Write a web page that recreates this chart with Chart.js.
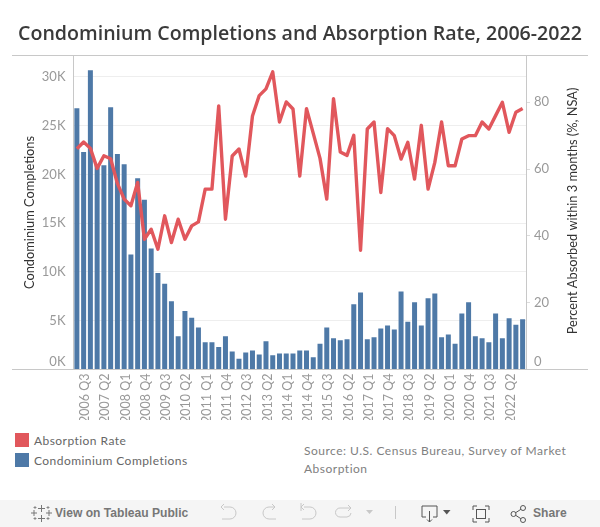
<!DOCTYPE html>
<html>
<head>
<meta charset="utf-8">
<title>Condominium Completions and Absorption Rate, 2006-2022</title>
<script src="https://cdn.jsdelivr.net/npm/chart.js@4"></script>
<style>
  html, body { margin: 0; padding: 0; background: #fff; }
  #page { position: relative; width: 600px; height: 527px; overflow: hidden; font-family: Lato, sans-serif; }
  #title { position: absolute; left: 18px; top: 19px; font: 600 19.6px 'Open Sans', sans-serif; line-height: 27px; color: #3a3a3a; white-space: nowrap; }
  #chart { position: absolute; left: 0; top: 0; }
  .swatch { position: absolute; left: 15px; width: 14px; height: 14px; }
  .key { position: absolute; left: 34px; font-size: 12px; line-height: 14px; color: #666; letter-spacing: 0.45px; white-space: nowrap; }
  #source { position: absolute; left: 304px; top: 442px; width: 280px; font-size: 12px; line-height: 18px; color: #808080; letter-spacing: 0.5px; }
  #toolbar { position: absolute; left: 0; top: 500px; width: 600px; height: 27px; background: #f5f5f5; }
  #toolbar span { position: absolute; top: 6px; font: 12.1px/15px 'Liberation Sans', sans-serif; font-weight: 700; color: #777; white-space: nowrap; }
  #toolbar svg { position: absolute; left: 0; top: 0; }
</style>
</head>
<body>
<div id="page">
  <canvas id="chart" width="600" height="420"></canvas>
  <div id="title">Condominium Completions and Absorption Rate, 2006-2022</div>
  <div class="swatch" style="top:433px;background:#e1575c"></div>
  <div class="key" style="top:434px" id="keyRate"></div>
  <div class="swatch" style="top:453px;background:#4e79a7"></div>
  <div class="key" style="top:454px" id="keyBars"></div>
  <div id="source">Source: U.S. Census Bureau, Survey of Market Absorption</div>
  <div id="toolbar">
    <svg width="600" height="27" fill="none" stroke-width="1">
      <!-- tableau mark -->
      <g stroke="#777">
        <path d="M41.5 5v7M38 8.500h7M41.500 15v7M38 18.500h7M34 10v6M31 13h6M49 10v6M46 13h6"/>
        <path d="M35 6v3M33.500 7.500h3M48 6v3M46.500 7.500h3M35 17v3M33.500 18.500h3M48 17v3M46.500 18.500h3" stroke-width="0.8"/>
      </g>
      <!-- undo / redo / revert / refresh -->
      <g stroke="#c8c8c8">
        <path d="M224 7h6a6 6 0 0 1 0 12h-8M224 4l-3 3 3 3"/>
        <path d="M275 7h-6a6 6 0 0 0 0 12h7M272 4l3 3-3 3"/>
        <path d="M304 7h6a6 6 0 0 1 0 12h-8M304 4l-3 3 3 3M301 3v8"/>
        <path d="M350 8h-10a4.500 4.500 0 0 0 0 9h7a4.500 4.500 0 0 0 4-4M348 5l3 3-3 3"/>
      </g>
      <path d="M366 10h7l-3.500 4z" fill="#c8c8c8"/>
      <path d="M395.500 6v13" stroke="#c8c8c8"/>
      <!-- download -->
      <g stroke="#555">
        <path d="M426 17h-4V6h15v11h-4M429.500 11v11M427 19.500l2.500 2.500 2.500-2.500"/>
      </g>
      <path d="M443 10h7.500l-3.750 4.500z" fill="#555"/>
      <!-- fullscreen -->
      <g stroke="#555">
        <path d="M473 10V6h4M485 6h4v4M489 18v4h-4M477 22h-4v-4"/>
        <rect x="476.500" y="9.500" width="9" height="9"/>
      </g>
      <!-- share -->
      <g stroke="#555">
        <circle cx="513.500" cy="14" r="2.500"/>
        <circle cx="523" cy="8" r="2.500"/>
        <circle cx="523" cy="20" r="2.500"/>
        <path d="M515.700 12.700l5.200-3.400M515.700 15.300l5.200 3.400"/>
      </g>
    </svg>
    <span style="left:55px">View on Tableau Public</span>
    <span style="left:533px">Share</span>
  </div>
</div>
<script>
// ===== Data =====
const quarters = [
  '2006 Q2', '2006 Q3', '2006 Q4',
  '2007 Q1', '2007 Q2', '2007 Q3', '2007 Q4',
  '2008 Q1', '2008 Q2', '2008 Q3', '2008 Q4',
  '2009 Q1', '2009 Q2', '2009 Q3', '2009 Q4',
  '2010 Q1', '2010 Q2', '2010 Q3', '2010 Q4',
  '2011 Q1', '2011 Q2', '2011 Q3', '2011 Q4',
  '2012 Q1', '2012 Q2', '2012 Q3', '2012 Q4',
  '2013 Q1', '2013 Q2', '2013 Q3', '2013 Q4',
  '2014 Q1', '2014 Q2', '2014 Q3', '2014 Q4',
  '2015 Q1', '2015 Q2', '2015 Q3', '2015 Q4',
  '2016 Q1', '2016 Q2', '2016 Q3', '2016 Q4',
  '2017 Q1', '2017 Q2', '2017 Q3', '2017 Q4',
  '2018 Q1', '2018 Q2', '2018 Q3', '2018 Q4',
  '2019 Q1', '2019 Q2', '2019 Q3', '2019 Q4',
  '2020 Q1', '2020 Q2', '2020 Q3', '2020 Q4',
  '2021 Q1', '2021 Q2', '2021 Q3', '2021 Q4',
  '2022 Q1', '2022 Q2', '2022 Q3', '2022 Q4'
];

const completions = [
  26800, 22300, 30700,
  21000, 20950, 26900, 22100,
  21050, 11800, 19600, 17400,
  12400, 9900, 8800, 7000,
  3400, 6000, 5300, 4300,
  2800, 2800, 2300, 3400,
  1850, 1100, 1750, 1950,
  1550, 2900, 1450, 1650,
  1650, 1650, 1950, 1950,
  1250, 2650, 4300, 3200,
  3000, 3100, 6700, 7900,
  3100, 3300, 4200, 4500,
  4100, 8000, 4900, 6900,
  4500, 7300, 7800, 3300,
  3600, 2650, 5750, 6900,
  3400, 3200, 2800, 5750,
  3200, 5250, 4600, 5150
];

const absorption = [
  66.1, 68.1, 66.2,
  60.2, 64, 63.1, 55.7,
  51, 49, 56, 39,
  42, 36, 46, 38,
  45, 39, 43, 44.2,
  54, 54, 78.9, 45,
  63.9, 66, 57.9, 75.9,
  82, 84, 89.1, 74.1,
  80.1, 78, 57.9, 78.1,
  70.7, 63.2, 51, 81.1,
  65.1, 64.1, 70.1, 35.7,
  72, 74.1, 53, 72.1,
  70, 63, 68, 57,
  73.1, 54, 62, 74.1,
  61, 61, 69, 70,
  70, 74.1, 72, 76,
  80, 71, 77, 78.1
];

const leftTicks = [0, 5000, 10000, 15000, 20000, 25000, 30000];
const rightTicks = [0, 20, 40, 60, 80];

const seriesRate = 'Absorption Rate';
const seriesBars = 'Condominium Completions';
const rightTitle = 'Percent Absorbed within 3 months (%, NSA)';

document.getElementById('keyRate').textContent = seriesRate;
document.getElementById('keyBars').textContent = seriesBars;

// ===== Config =====
const textFont = 'Lato, sans-serif';
const axisLine = '#c8c8c8';
const tickGray = '#999999';

// the zero label sits above the baseline, a blank second line pushes it up
const liftZero = (v, text) => (v === 0 ? [text, ''] : text);

// outer frame lines run past the plot, and the right title reads bottom to top
const frameLines = {
  id: 'frameLines',
  afterDraw(chart) {
    const { ctx, chartArea } = chart;
    ctx.save();
    ctx.strokeStyle = axisLine;
    ctx.lineWidth = 1;
    ctx.beginPath();
    ctx.moveTo(12, chartArea.top);
    ctx.lineTo(588, chartArea.top);
    ctx.moveTo(12, chartArea.bottom);
    ctx.lineTo(588, chartArea.bottom);
    ctx.stroke();

    ctx.translate(573, 211);
    ctx.rotate(-Math.PI / 2);
    ctx.fillStyle = '#333';
    ctx.font = '12.8px ' + textFont;
    ctx.textAlign = 'center';
    ctx.textBaseline = 'middle';
    ctx.fillText(rightTitle, 0, 0);
    ctx.restore();
  }
};

new Chart(document.getElementById('chart'), {
  type: 'bar',
  plugins: [frameLines],
  data: {
    labels: quarters,
    datasets: [
      {
        type: 'line',
        label: seriesRate,
        data: absorption,
        yAxisID: 'y1',
        borderColor: '#e1575c',
        borderWidth: 3.4,
        borderJoinStyle: 'round',
        pointRadius: 0,
        tension: 0,
        order: 1
      },
      {
        label: seriesBars,
        data: completions,
        yAxisID: 'y',
        backgroundColor: '#4e79a7',
        categoryPercentage: 1,
        barPercentage: 0.74,
        order: 2
      }
    ]
  },
  options: {
    responsive: false,
    animation: false,
    layout: { padding: { top: 55.5 } },
    plugins: { legend: { display: false }, title: { display: false } },
    scales: {
      x: {
        offset: true,
        grid: { display: false, drawTicks: false },
        border: { display: false },
        afterFit: (s) => { s.height = 50.5; },
        ticks: {
          autoSkip: false,
          minRotation: 90,
          maxRotation: 90,
          padding: 4,
          labelOffset: 1.5,
          color: tickGray,
          font: { family: textFont, size: 12.5 },
          callback(v, i) { return i % 3 === 1 ? this.getLabelForValue(v) : ''; }
        }
      },
      y: {
        position: 'left',
        min: 0,
        max: 32200,
        afterBuildTicks: (s) => { s.ticks = leftTicks.map(value => ({ value })); },
        afterFit: (s) => { s.width = 73.5; },
        border: { color: axisLine },
        grid: { color: '#eeeeee', drawTicks: false },
        title: {
          display: true,
          text: seriesBars,
          color: '#333',
          font: { family: textFont, size: 12.8 },
          padding: { top: 22, bottom: 0 }
        },
        ticks: {
          padding: 8,
          color: tickGray,
          font: { family: textFont, size: 13 },
          callback: (v) => liftZero(v, (v / 1000) + 'K')
        }
      },
      y1: {
        position: 'right',
        min: 0,
        max: 94,
        afterBuildTicks: (s) => { s.ticks = rightTicks.map(value => ({ value })); },
        afterFit: (s) => { s.width = 74; },
        border: { color: axisLine },
        grid: { drawOnChartArea: false, color: '#dddddd', tickLength: 4 },
        ticks: {
          padding: 4,
          color: tickGray,
          font: { family: textFont, size: 13 },
          callback: (v) => liftZero(v, String(v))
        }
      }
    }
  }
});
</script>
</body>
</html>
